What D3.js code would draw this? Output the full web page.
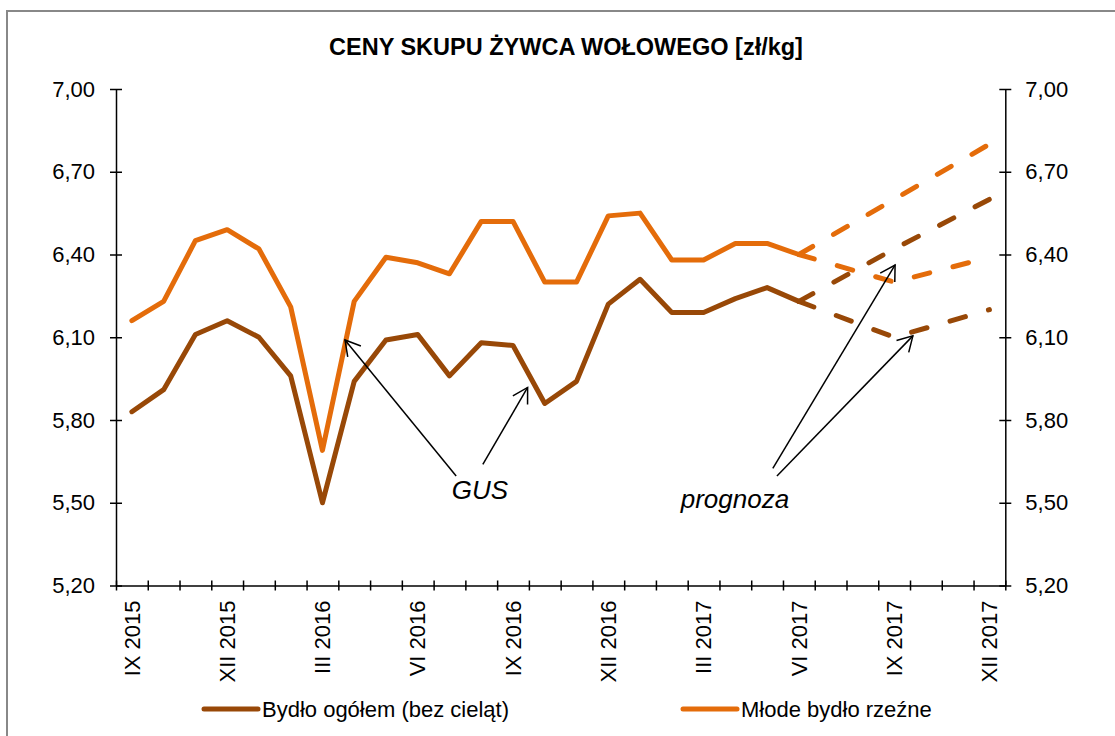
<!DOCTYPE html>
<html>
<head>
<meta charset="utf-8">
<script src="https://cdn.jsdelivr.net/npm/d3@7"></script>
<style>
  body { margin: 0; background: #fff; }
  svg { font-family: "Liberation Sans", Arial, sans-serif; }
</style>
</head>
<body>
<div class="canvas"></div>
<script>
// months on the x axis
const months = ['IX 2015', 'X 2015', 'XI 2015', 'XII 2015', 'I 2016', 'II 2016', 'III 2016',
  'IV 2016', 'V 2016', 'VI 2016', 'VII 2016', 'VIII 2016', 'IX 2016', 'X 2016', 'XI 2016',
  'XII 2016', 'I 2017', 'II 2017', 'III 2017', 'IV 2017', 'V 2017', 'VI 2017', 'VII 2017',
  'VIII 2017', 'IX 2017', 'X 2017', 'XI 2017', 'XII 2017'];
const tickLabels = ['IX 2015', 'XII 2015', 'III 2016', 'VI 2016', 'IX 2016', 'XII 2016',
  'III 2017', 'VI 2017', 'IX 2017', 'XII 2017'];
const yTicks = [5.2, 5.5, 5.8, 6.1, 6.4, 6.7, 7.0];

// GUS data IX 2015 - VI 2017
const gusMonths = months.slice(0, 22);
const bydloOgolem = [5.83, 5.91, 6.11, 6.16, 6.10, 5.96, 5.50, 5.94, 6.09, 6.11, 5.96,
  6.08, 6.07, 5.86, 5.94, 6.22, 6.31, 6.19, 6.19, 6.24, 6.28, 6.23];
const mlodeBydlo = [6.16, 6.23, 6.45, 6.49, 6.42, 6.21, 5.69, 6.23, 6.39, 6.37, 6.33,
  6.52, 6.52, 6.30, 6.30, 6.54, 6.55, 6.38, 6.38, 6.44, 6.44, 6.40];

// forecast (prognoza) ranges
const prognozaMonths = ['VI 2017', 'IX 2017', 'XII 2017'];
const bydloGorna = [6.23, 6.42, 6.60];
const bydloDolna = [6.23, 6.10, 6.20];
const mlodeGorna = [6.40, 6.60, 6.80];
const mlodeDolna = [6.40, 6.30, 6.39];

const colors = { bydlo: '#984807', mlode: '#E46C0A' };

const dims = { width: 1115, height: 736 };
const plot = { left: 116, right: 1005.3, top: 89, bottom: 585.5 };

const svg = d3.select('.canvas')
  .append('svg')
  .attr('width', dims.width)
  .attr('height', dims.height);

// frame (only top and left edges visible)
svg.append('path')
  .attr('d', `M7,${dims.height} V11 H${dims.width}`)
  .attr('fill', 'none')
  .attr('stroke', '#888')
  .attr('stroke-width', 2);

svg.append('text')
  .attr('x', 566)
  .attr('y', 55)
  .attr('text-anchor', 'middle')
  .attr('font-size', 23.5)
  .attr('font-weight', 'bold')
  .text('CENY SKUPU ŻYWCA WOŁOWEGO [zł/kg]');

// scales
const x = d3.scaleBand().domain(months).range([plot.left, plot.right]);
const xc = m => x(m) + x.bandwidth() / 2;
const xIdx = d3.scaleLinear().domain([-0.5, months.length - 0.5]).range([plot.left, plot.right]);
const y = d3.scaleLinear().domain([5.2, 7.0]).range([plot.bottom, plot.top]);

const pl = d3.formatLocale({ decimal: ',', thousands: ' ', grouping: [3], currency: ['', ' zł'] });
const fmt = pl.format('.2f');

// axes
const styleAxis = (g, tickX, tickY) => {
  g.select('.domain').attr('stroke', '#000').attr('stroke-width', 1.5);
  g.selectAll('.tick line').attr('stroke', '#000').attr('stroke-width', 1.5);
  if (tickX) g.selectAll('.tick line').attr('x1', -6).attr('x2', 6);
  if (tickY) g.selectAll('.tick line').attr('y1', -5).attr('y2', 5);
  g.selectAll('.tick text').attr('font-size', 22).attr('fill', '#000')
    .attr('font-family', '"Liberation Sans", Arial, sans-serif');
};

svg.append('g')
  .attr('transform', `translate(${plot.left},0)`)
  .call(d3.axisLeft(y).tickValues(yTicks).tickFormat(fmt).tickSizeInner(6).tickSizeOuter(0).tickPadding(15))
  .call(g => styleAxis(g, true, false));

svg.append('g')
  .attr('transform', `translate(${plot.right},0)`)
  .call(d3.axisRight(y).tickValues(yTicks).tickFormat(fmt).tickSizeInner(6).tickSizeOuter(0).tickPadding(14))
  .call(g => styleAxis(g, true, false));

svg.append('g')
  .attr('transform', `translate(0,${plot.bottom})`)
  .call(d3.axisBottom(xIdx).tickValues(d3.range(months.length + 1).map(i => i - 0.5))
    .tickFormat('').tickSizeOuter(0))
  .call(g => styleAxis(g, false, true));

// rotated month labels
svg.append('g')
  .selectAll('text')
  .data(tickLabels)
  .enter()
  .append('text')
  .attr('transform', d => `translate(${xc(d)},${plot.bottom + 15}) rotate(-90)`)
  .attr('text-anchor', 'end')
  .attr('dy', '0.35em')
  .attr('font-size', 22)
  .text(d => d);

// lines
const line = d3.line().x(d => xc(d.m)).y(d => y(d.v));
const toPts = (ms, vals) => vals.map((v, i) => ({ m: ms[i], v }));

const series = [
  { vals: mlodeGorna, ms: prognozaMonths, color: colors.mlode, dash: true },
  { vals: mlodeDolna, ms: prognozaMonths, color: colors.mlode, dash: true },
  { vals: bydloGorna, ms: prognozaMonths, color: colors.bydlo, dash: true },
  { vals: bydloDolna, ms: prognozaMonths, color: colors.bydlo, dash: true },
  { vals: bydloOgolem, ms: gusMonths, color: colors.bydlo, dash: false },
  { vals: mlodeBydlo, ms: gusMonths, color: colors.mlode, dash: false }
];

svg.append('g')
  .selectAll('path')
  .data(series)
  .enter()
  .append('path')
  .attr('d', d => line(toPts(d.ms, d.vals)))
  .attr('fill', 'none')
  .attr('stroke', d => d.color)
  .attr('stroke-width', 5)
  .attr('stroke-linecap', 'round')
  .attr('stroke-linejoin', 'round')
  .attr('stroke-dasharray', d => d.dash ? '16 24' : null);

// annotations: [month index, value]
const arrows = [
  { from: [10.21, 5.597], to: [6.71, 6.09] },
  { from: [11.05, 5.639], to: [12.46, 5.918] },
  { from: [20.18, 5.625], to: [24.03, 6.362] },
  { from: [20.31, 5.597], to: [24.59, 6.105] }
];
const notes = [
  { text: 'GUS', at: [10.07, 5.515] },
  { text: 'prognoza', at: [17.28, 5.48] }
];

const ann = svg.append('g');
arrows.forEach(a => {
  const x1 = xIdx(a.from[0]), y1 = y(a.from[1]);
  const x2 = xIdx(a.to[0]), y2 = y(a.to[1]);
  const ang = Math.atan2(y1 - y2, x1 - x2);
  const len = 17, spread = Math.PI / 6;
  ann.append('line')
    .attr('x1', x1).attr('y1', y1).attr('x2', x2).attr('y2', y2)
    .attr('stroke', '#000').attr('stroke-width', 1.5);
  ann.append('path')
    .attr('d', `M${x2 + len * Math.cos(ang - spread)},${y2 + len * Math.sin(ang - spread)} L${x2},${y2} L${x2 + len * Math.cos(ang + spread)},${y2 + len * Math.sin(ang + spread)}`)
    .attr('fill', 'none').attr('stroke', '#000').attr('stroke-width', 1.5);
});
ann.selectAll('text')
  .data(notes)
  .enter()
  .append('text')
  .attr('x', d => xIdx(d.at[0]))
  .attr('y', d => y(d.at[1]))
  .attr('font-size', 26)
  .attr('font-style', 'italic')
  .text(d => d.text);

// legend
const legend = [
  { name: 'Bydło ogółem (bez cieląt)', color: colors.bydlo, x: 204 },
  { name: 'Młode bydło rzeźne', color: colors.mlode, x: 683 }
];
const leg = svg.append('g').selectAll('g')
  .data(legend)
  .enter()
  .append('g')
  .attr('transform', d => `translate(${d.x},709)`);
leg.append('line')
  .attr('x1', 0).attr('x2', 54)
  .attr('stroke', d => d.color)
  .attr('stroke-width', 5)
  .attr('stroke-linecap', 'round');
leg.append('text')
  .attr('x', 58)
  .attr('dy', '0.35em')
  .attr('font-size', 22)
  .text(d => d.name);
</script>
</body>
</html>
